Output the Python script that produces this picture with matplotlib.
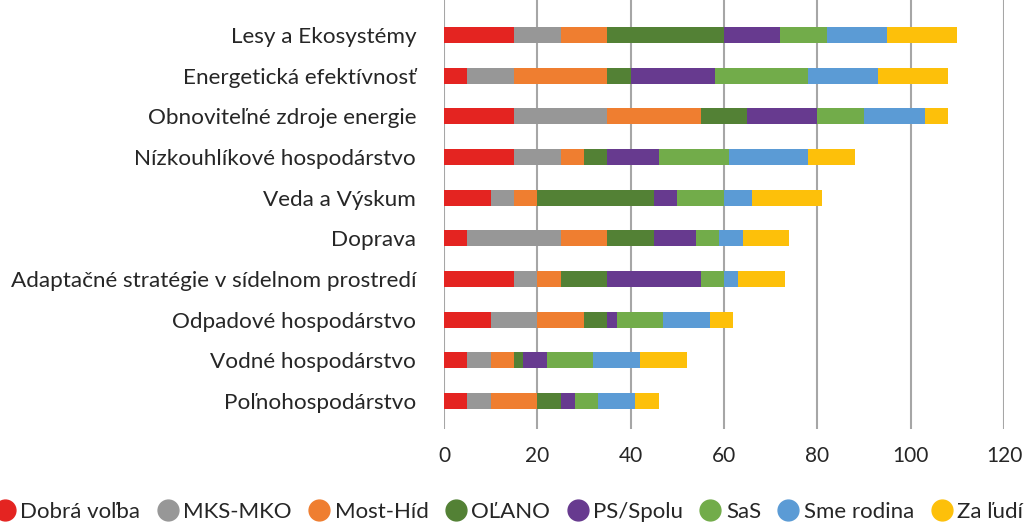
import numpy as np
import matplotlib.pyplot as plt
from matplotlib.lines import Line2D

plt.rcParams['font.family'] = ['Lato', 'DejaVu Sans']

# oblasti (zhora nadol ako v grafe)
oblasti = ['Lesy a Ekosystémy', 'Energetická efektívnosť', 'Obnoviteľné zdroje energie',
           'Nízkouhlíkové hospodárstvo', 'Veda a Výskum', 'Doprava',
           'Adaptačné stratégie v sídelnom prostredí', 'Odpadové hospodárstvo',
           'Vodné hospodárstvo', 'Poľnohospodárstvo']

strany = ['Dobrá voľba', 'MKS-MKO', 'Most-Híd', 'OĽANO', 'PS/Spolu', 'SaS',
          'Sme rodina', 'Za ľudí']
farby = ['#E42421', '#979797', '#EF7E30', '#538135', '#673A8F', '#72AC4A',
         '#5B9BD5', '#FDC00A']

dobra_volba = [15, 5, 15, 15, 10, 5, 15, 10, 5, 5]
mks_mko     = [10, 10, 20, 10, 5, 20, 5, 10, 5, 5]
most_hid    = [10, 20, 20, 5, 5, 10, 5, 10, 5, 10]
olano       = [25, 5, 10, 5, 25, 10, 10, 5, 2, 5]
ps_spolu    = [12, 18, 15, 11, 5, 9, 20, 2, 5, 3]
sas         = [10, 20, 10, 15, 10, 5, 5, 10, 10, 5]
sme_rodina  = [13, 15, 13, 17, 6, 5, 3, 10, 10, 8]
za_ludi     = [15, 15, 5, 10, 15, 10, 10, 5, 10, 5]

hodnoty = [dobra_volba, mks_mko, most_hid, olano, ps_spolu, sas, sme_rodina, za_ludi]

fig = plt.figure(figsize=(10.24, 5.23), dpi=100)
ax = fig.add_axes([444/1024, 1 - 429/523, 560/1024, 429/523])

y = np.arange(len(oblasti))[::-1]
left = np.zeros(len(oblasti))
for vals, name, col in zip(hodnoty, strany, farby):
    vals = np.array(vals)
    ax.barh(y, vals, left=left, height=0.39, color=col, label=name, zorder=3)
    left += vals

ax.set_xlim(0, 120)
ax.set_ylim(-0.689, 9.861)
ax.set_xticks(np.arange(0, 121, 20))
ax.set_yticks(y)
ax.set_yticklabels(oblasti)
ax.grid(axis='x', color='#a6a6a6', linewidth=1.5, zorder=0)
for s in ax.spines.values():
    s.set_visible(False)
ax.tick_params(axis='y', length=0, labelsize=16.2, colors='#262626', pad=20)
ax.tick_params(axis='x', length=0, labelsize=15, colors='#262626', pad=12)

handles = [Line2D([], [], marker='o', linestyle='none', markersize=15,
                  markerfacecolor=c, markeredgecolor=c) for c in farby]
fig.legend(handles, strany, loc='center', bbox_to_anchor=(0.497, 1 - 512/523),
           ncol=8, frameon=False, fontsize=16, handlelength=0.9,
           handletextpad=0.25, columnspacing=0.78, labelcolor='#262626',
           borderaxespad=0, borderpad=0)

fig.savefig('out.png', dpi=100)
